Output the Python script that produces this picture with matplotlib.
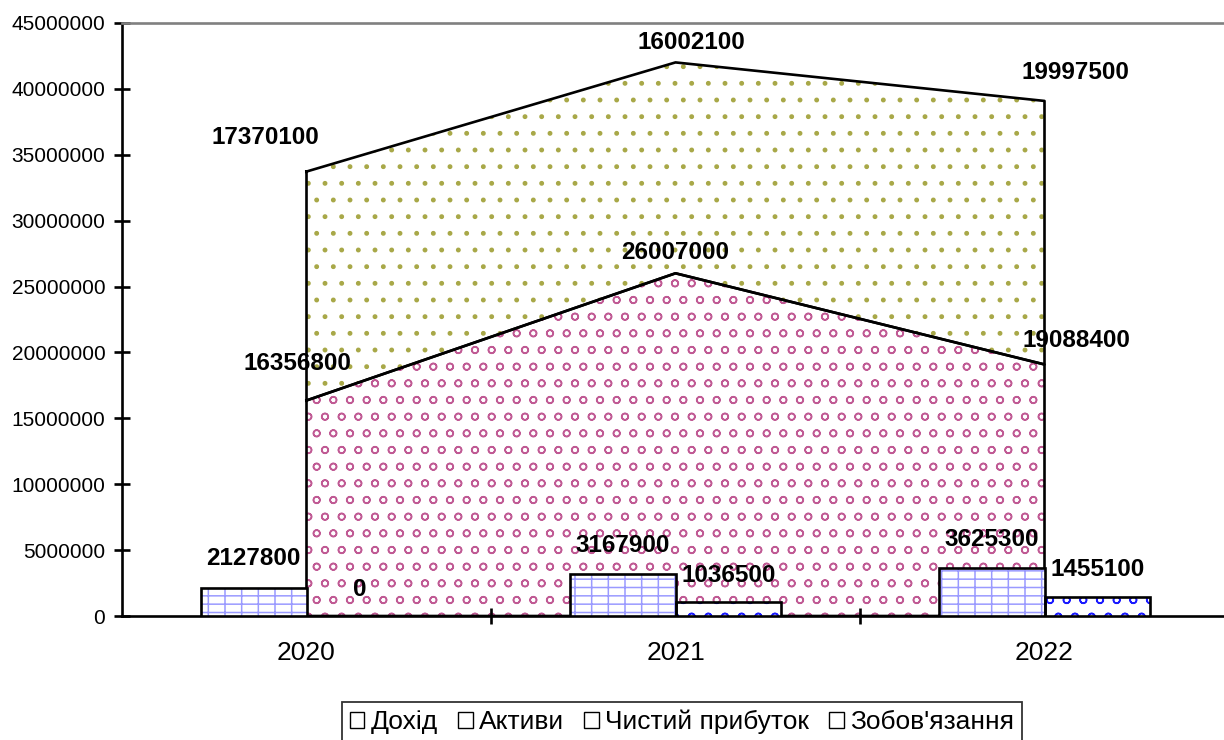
import matplotlib.pyplot as plt
from matplotlib.patches import Patch
import numpy as np

plt.rcParams['font.family'] = ['Liberation Sans', 'DejaVu Sans']
plt.rcParams['hatch.linewidth'] = 1.1

years = ['2020', '2021', '2022']
dohid = [16356800, 26007000, 19088400]
aktyvy = [17370100, 16002100, 19997500]
prybutok = [2127800, 3167900, 3625300]
zobovyazannya = [0, 1036500, 1455100]

x = np.arange(len(years))
verh = np.array(dohid) + np.array(aktyvy)

fig = plt.figure(figsize=(12.24, 7.40), dpi=100)
ax = fig.add_axes([122 / 1224, 124 / 740, 1107 / 1224, 593 / 740])


def zalyvka(ax, x, niz, verh, kolir, shtrykh):
    # спочатку візерунок, потім чорний контур
    ax.fill_between(x, niz, verh, facecolor='white', edgecolor=kolir,
                    hatch=shtrykh, linewidth=0)
    kontur_x = np.concatenate([x, x[::-1], x[:1]])
    kontur_y = np.concatenate([verh, np.asarray(niz)[::-1], verh[:1]])
    ax.plot(kontur_x, kontur_y, color='black', lw=1.9)


zalyvka(ax, x, np.zeros(3), np.array(dohid, float), '#c05a94', 'o')
zalyvka(ax, x, np.array(dohid, float), verh, '#a8a848', '.')

shyryna = 0.287
for znach, zsuv, kolir, shtrykh in [(prybutok, -shyryna / 2, '#9a9aff', '+-'),
                                    (zobovyazannya, shyryna / 2, '#1a1aff', 'o')]:
    ax.bar(x + zsuv, znach, shyryna, color='white', edgecolor=kolir,
           hatch=shtrykh, linewidth=0, zorder=3)
    ax.bar(x + zsuv, znach, shyryna, color='none', edgecolor='black',
           linewidth=1.9, zorder=4)

pidpys = dict(fontsize=17.5, fontweight='bold', textcoords='offset pixels',
              ha='center', va='center', zorder=5)
for i in range(3):
    ax.annotate(f'{prybutok[i]}', (x[i] - shyryna / 2, prybutok[i]),
                xytext=(0, 29), **pidpys)
    ax.annotate(f'{zobovyazannya[i]}', (x[i] + shyryna / 2, zobovyazannya[i]),
                xytext=(0, 27), **pidpys)

zsuvy_dohid = [(-9, 37), (0, 21), (32, 24)]
zsuvy_aktyvy = [(-41, 34), (16, 20), (31, 28)]
for i in range(3):
    ax.annotate(f'{dohid[i]}', (x[i], dohid[i]), xytext=zsuvy_dohid[i], **pidpys)
    ax.annotate(f'{aktyvy[i]}', (x[i], verh[i]), xytext=zsuvy_aktyvy[i], **pidpys)

ax.set_xlim(-0.5, 2.5)
ax.set_ylim(0, 45000000)
ax.set_yticks(np.arange(0, 45000001, 5000000))
ax.set_yticklabels([f'{v}' for v in range(0, 45000001, 5000000)])
ax.set_xticks([0.5, 1.5])
ax.set_xticklabels([])
ax.set_xticks(x, minor=True)
ax.set_xticklabels(years, minor=True)
ax.tick_params(axis='x', which='minor', length=0, pad=18, labelsize=19)
ax.tick_params(axis='x', which='major', direction='inout', length=12, width=1.9)
ax.tick_params(axis='y', direction='inout', length=12, width=1.9, labelsize=15, pad=6)

for s in ['left', 'bottom']:
    ax.spines[s].set_linewidth(1.9)
ax.spines['top'].set_color('#808080')
ax.spines['top'].set_linewidth(1.9)
ax.spines['right'].set_visible(False)

rucky = [Patch(facecolor='white', edgecolor='black', label='Дохід'),
         Patch(facecolor='white', edgecolor='black', label='Активи'),
         Patch(facecolor='white', edgecolor='black', label='Чистий прибуток'),
         Patch(facecolor='white', edgecolor='black', label="Зобов'язання")]
leg = fig.legend(handles=rucky, loc='upper center', bbox_to_anchor=(682 / 1224, 1 - 702 / 740),
                 ncol=4, fontsize=19, frameon=True, fancybox=False, edgecolor='black',
                 handlelength=0.55, handleheight=0.55, handletextpad=0.25, columnspacing=0.75,
                 borderpad=0.3, borderaxespad=0)
leg.get_frame().set_linewidth(1.3)

fig.savefig('out.png', dpi=100)
